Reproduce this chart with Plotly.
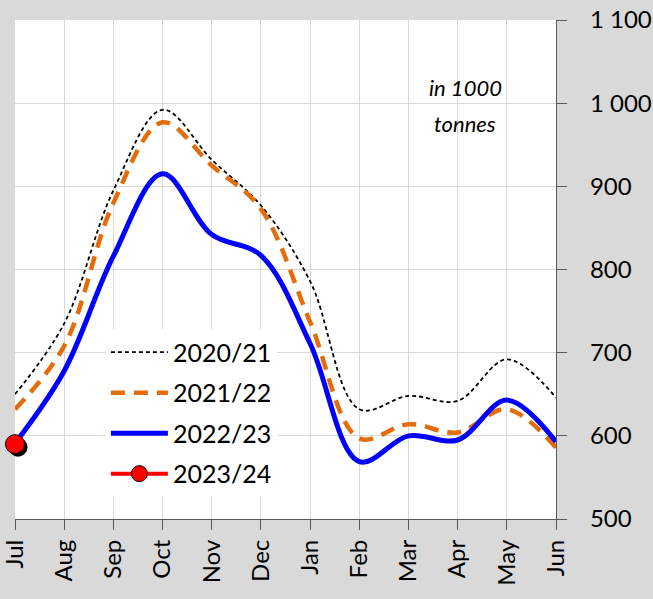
import plotly.graph_objects as go

months = ["Jul", "Aug", "Sep", "Oct", "Nov", "Dec", "Jan", "Feb", "Mar", "Apr", "May", "Jun"]
s2020 = [650, 735, 895, 992, 932, 877, 786, 632, 648, 642, 692, 646]
s2021 = [632, 708, 880, 977, 925, 873, 737, 597, 614, 604, 632, 586]
s2022 = [591, 678, 816, 915, 842, 817, 711, 569, 600, 595, 643, 593]
s2023 = [590]
names = ["2020/21", "2021/22", "2022/23", "2023/24"]
yticks = [500, 600, 700, 800, 900, 1000, 1100]
ytick_labels = ["500", "600", "700", "800", "900", "1 000", "1 100"]

FONT = "Lato"
fig = go.Figure()

fig.add_trace(go.Scatter(x=months, y=s2020, name=names[0], mode="lines", legendgroup="a",
                         line=dict(color="black", width=1.8, dash="4px,3px", shape="spline", smoothing=1)))
fig.add_trace(go.Scatter(x=months, y=s2021, name=names[1], mode="lines", legendgroup="b",
                         line=dict(color="#E46C0A", width=4.5, dash="14px,9px", shape="spline", smoothing=1)))
fig.add_trace(go.Scatter(x=months, y=s2022, name=names[2], mode="lines", legendgroup="c",
                         line=dict(color="#0000FF", width=5, shape="spline", smoothing=1)))
# shadow of the 2023/24 marker (drawn on slightly shifted overlay axes)
fig.add_trace(go.Scatter(x=months[:len(s2023)], y=s2023, mode="markers", showlegend=False,
                         xaxis="x2", yaxis="y2", cliponaxis=False, hoverinfo="skip",
                         marker=dict(color="black", size=19, line=dict(width=0))))
fig.add_trace(go.Scatter(x=months[:len(s2023)], y=s2023, name=names[3], mode="lines+markers",
                         legendgroup="d", xaxis="x3", yaxis="y3", cliponaxis=False,
                         line=dict(color="#FF0000", width=4),
                         marker=dict(color="#FF0000", size=19, line=dict(color="black", width=1))))

ncat = len(months) - 1
ymin, ymax = yticks[0], yticks[-1]
plot_w, plot_h = 541, 499
dx = 3 * ncat / plot_w
dy = 3 * (ymax - ymin) / plot_h

axis_font = dict(family=FONT, size=24, color="black")
fig.update_layout(
    width=653, height=599,
    margin=dict(l=15, r=97, t=20, b=80, autoexpand=False),
    paper_bgcolor="#D9D9D9", plot_bgcolor="white",
    font=dict(family=FONT, color="black"),
    showlegend=True,
    legend=dict(x=0.168, y=0.38, xanchor="left", yanchor="top",
                bgcolor="white", borderwidth=0, font=dict(family=FONT, size=25),
                tracegroupgap=5, itemwidth=57, traceorder="grouped"),
    xaxis=dict(type="category", categoryorder="array", categoryarray=months,
               range=[0, ncat], showgrid=True, gridcolor="#D9D9D9", gridwidth=1,
               showline=True, linecolor="#595959", linewidth=1.3, automargin=False,
               ticks="outside", ticklen=10, tickcolor="#595959", tickangle=-90,
               tickfont=axis_font, zeroline=False),
    yaxis=dict(side="right", range=[ymin, ymax], tickvals=yticks, ticktext=ytick_labels,
               showgrid=True, gridcolor="#D9D9D9", gridwidth=1, automargin=False,
               showline=True, linecolor="#595959", linewidth=1.3,
               ticks="outside", ticklen=10, tickcolor="#595959",
               tickfont=axis_font, ticklabelstandoff=18, zeroline=False),
    xaxis2=dict(type="category", categoryorder="array", categoryarray=months,
                overlaying="x", range=[-dx, ncat - dx], visible=False),
    yaxis2=dict(overlaying="y", range=[ymin + dy, ymax + dy], visible=False),
    xaxis3=dict(type="category", categoryorder="array", categoryarray=months,
                overlaying="x", range=[0, ncat], visible=False),
    yaxis3=dict(overlaying="y", range=[ymin, ymax], visible=False),
    annotations=[dict(text="<i>in 1000</i>", x=0.832, y=0.864, xref="paper", yref="paper",
                      xanchor="center", yanchor="middle",
                      showarrow=False, font=dict(family=FONT, size=22, color="black")),
                 dict(text="<i>tonnes</i>", x=0.832, y=0.792, xref="paper", yref="paper",
                      xanchor="center", yanchor="middle",
                      showarrow=False, font=dict(family=FONT, size=22, color="black"))],
)

fig.write_html("out.html", config={"displayModeBar": False},
               post_script="document.body.style.margin='0';document.body.style.background='#D9D9D9';")
